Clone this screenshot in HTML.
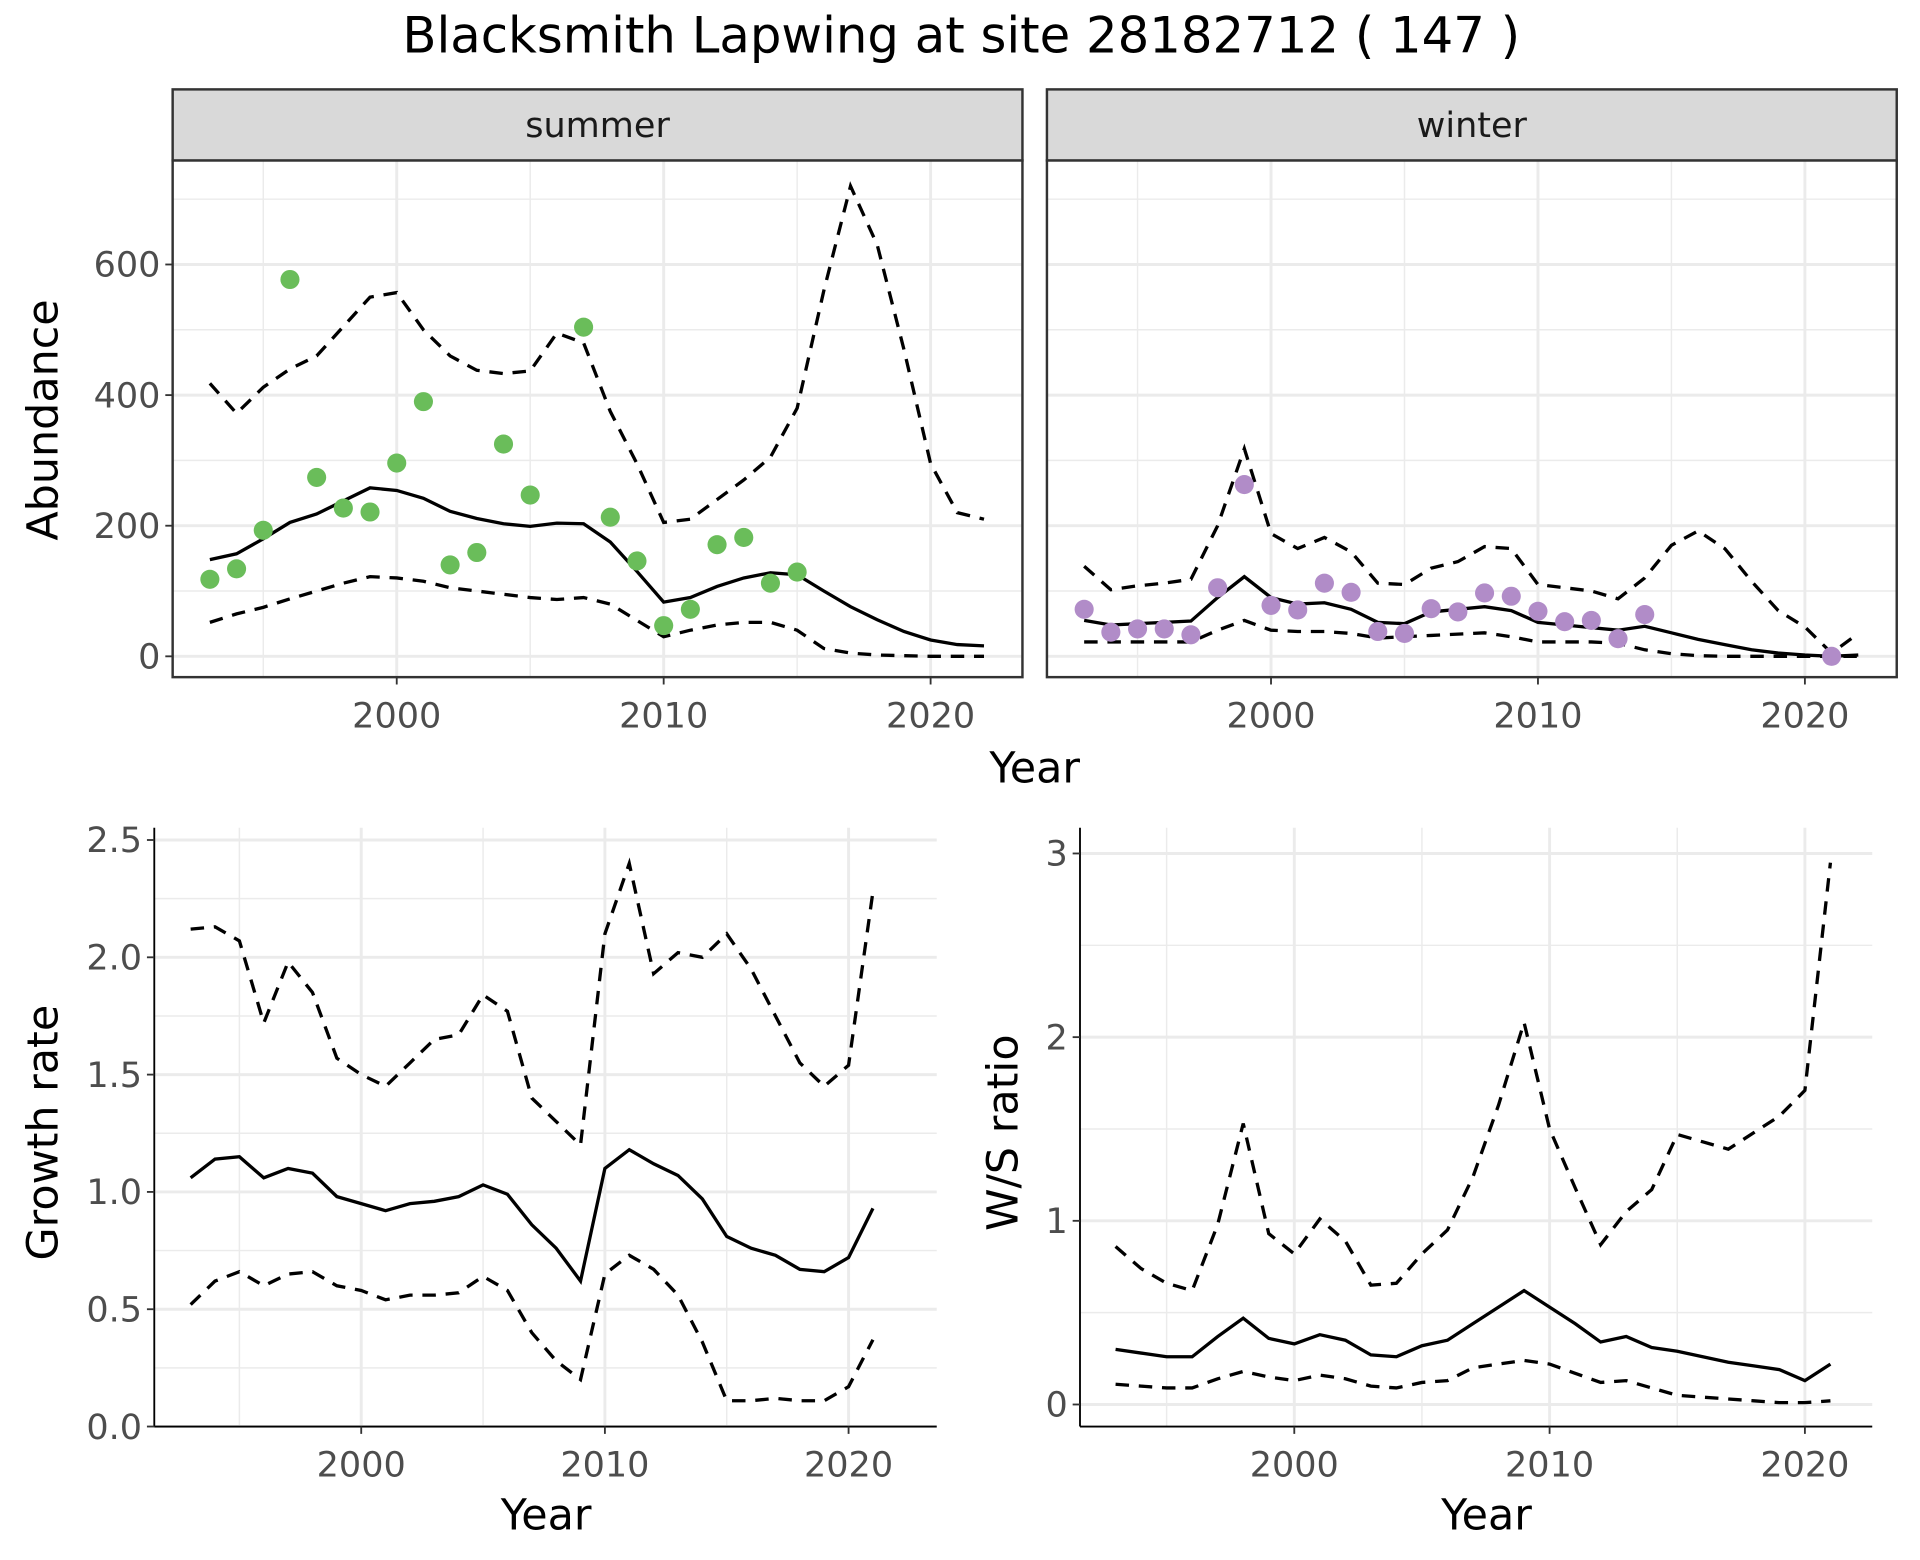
<!DOCTYPE html>
<html><head><meta charset="utf-8"><style>
html,body{margin:0;padding:0;background:#fff;}
svg{display:block;font-family:"DejaVu Sans","Liberation Sans",sans-serif;}
</style></head><body>
<svg id="chart" width="1920" height="1560" viewBox="0 0 1568 1274" preserveAspectRatio="none" xmlns="http://www.w3.org/2000/svg">
<rect width="1568" height="1274" fill="#fff"/>
<text x="785" y="43" text-anchor="middle" font-size="40.6">Blacksmith Lapwing at site 28182712 ( 147 )</text>
</svg>
<script>
const yearsA = [1993,1994,1995,1996,1997,1998,1999,2000,2001,2002,2003,2004,2005,2006,2007,2008,2009,2010,2011,2012,2013,2014,2015,2016,2017,2018,2019,2020,2021,2022];
const summerMean = [148,157,180,205,218,238,258,254,242,222,211,203,199,204,203,175,130,83,90,107,120,128,125,100,76,56,38,25,18,16];
const summerUpper = [418,372,412,440,460,505,550,557,500,460,438,433,437,495,480,375,295,205,210,240,270,305,380,560,720,630,470,295,220,210];
const summerLower = [52,65,75,88,100,112,122,120,115,105,100,95,90,87,90,80,55,30,40,48,52,52,40,12,5,2,1,0,0,0];
const summerPtYears = [1993,1994,1995,1996,1997,1998,1999,2000,2001,2002,2003,2004,2005,2007,2008,2009,2010,2011,2012,2013,2014,2015];
const summerPts = [118,134,193,577,274,227,221,296,390,140,159,325,247,504,213,146,47,72,171,182,112,129];
const winterMean = [55,48,50,52,54,90,122,90,80,82,72,52,50,68,72,76,70,52,48,44,40,46,36,26,18,10,5,2,0,2];
const winterUpper = [138,102,108,112,118,200,318,188,165,182,160,112,110,135,145,168,165,110,105,100,88,120,170,192,165,115,70,45,5,35];
const winterLower = [22,22,22,22,22,40,55,40,38,38,35,28,30,32,34,36,30,22,22,22,20,10,4,1,0,0,0,0,0,0];
const winterPtYears = [1993,1994,1995,1996,1997,1998,1999,2000,2001,2002,2003,2004,2005,2006,2007,2008,2009,2010,2011,2012,2013,2014,2021];
const winterPts = [72,37,42,42,33,105,263,78,71,112,98,38,35,73,68,97,92,69,53,55,27,64,0];
const yearsB = [1993,1994,1995,1996,1997,1998,1999,2000,2001,2002,2003,2004,2005,2006,2007,2008,2009,2010,2011,2012,2013,2014,2015,2016,2017,2018,2019,2020,2021];
const growthMean = [1.06,1.14,1.15,1.06,1.10,1.08,0.98,0.95,0.92,0.95,0.96,0.98,1.03,0.99,0.86,0.76,0.62,1.10,1.18,1.12,1.07,0.97,0.81,0.76,0.73,0.67,0.66,0.72,0.93];
const growthUpper = [2.12,2.13,2.07,1.72,1.98,1.85,1.57,1.50,1.45,1.55,1.65,1.67,1.84,1.77,1.40,1.30,1.20,2.10,2.40,1.93,2.02,2.00,2.10,1.95,1.75,1.55,1.45,1.54,2.28];
const growthLower = [0.52,0.62,0.66,0.60,0.65,0.66,0.60,0.58,0.54,0.56,0.56,0.57,0.64,0.58,0.40,0.28,0.20,0.65,0.73,0.67,0.56,0.36,0.11,0.11,0.12,0.11,0.11,0.17,0.37];
const ratioMean = [0.30,0.28,0.26,0.26,0.37,0.47,0.36,0.33,0.38,0.35,0.27,0.26,0.32,0.35,0.44,0.53,0.62,0.53,0.44,0.34,0.37,0.31,0.29,0.26,0.23,0.21,0.19,0.13,0.22];
const ratioUpper = [0.86,0.74,0.66,0.62,0.98,1.53,0.93,0.82,1.01,0.89,0.65,0.66,0.82,0.95,1.24,1.63,2.08,1.50,1.18,0.87,1.05,1.17,1.47,1.43,1.39,1.48,1.57,1.71,2.95];
const ratioLower = [0.11,0.10,0.09,0.09,0.14,0.18,0.15,0.13,0.16,0.14,0.10,0.09,0.12,0.13,0.20,0.22,0.24,0.22,0.17,0.12,0.13,0.09,0.05,0.04,0.03,0.02,0.01,0.01,0.02];
const xTicks = [2000,2010,2020];
const xMinor = [1995,2005,2015];
const abTicks = [0,200,400,600];
const abMinor = [100,300,500,700];
const grTicks = [0,0.5,1,1.5,2,2.5];
const grLabels = ["0.0","0.5","1.0","1.5","2.0","2.5"];
const grMinor = [0.25,0.75,1.25,1.75,2.25];
const wsTicks = [0,1,2,3];
const wsMinor = [0.5,1.5,2.5];

const NS="http://www.w3.org/2000/svg";
const svg=document.getElementById('chart');
function el(tag,attrs,parent){const e=document.createElementNS(NS,tag);for(const k in attrs)e.setAttribute(k,attrs[k]);(parent||svg).appendChild(e);return e;}
function lin(d0,d1,r0,r1){return v=>r0+(v-d0)*(r1-r0)/(d1-d0);}
const TICK=28.6;

function panel(o){
  const g=el('g',{});
  
  
  const xs=lin(o.xd[0],o.xd[1],o.xr[0],o.xr[1]);
  const ys=lin(o.yd[0],o.yd[1],o.yr[0],o.yr[1]);
  const L=o.box[0],T=o.box[1],R=o.box[2],B=o.box[3];
  o.yMinor.forEach(v=>{const l=el('line',{x1:L,x2:R,y1:ys(v),y2:ys(v),stroke:'#ebebeb','stroke-width':1.2},g);});
  xMinor.forEach(v=>{const l=el('line',{x1:xs(v),x2:xs(v),y1:T,y2:B,stroke:'#ebebeb','stroke-width':1.2},g);});
  o.yTicks.forEach((v,i)=>{const l=el('line',{x1:L,x2:R,y1:ys(v),y2:ys(v),stroke:'#ebebeb','stroke-width':2.4},g);});
  xTicks.forEach(v=>{const l=el('line',{x1:xs(v),x2:xs(v),y1:T,y2:B,stroke:'#ebebeb','stroke-width':2.4},g);});
  const line=(ys_,vals,dash,nm)=>{const p=el('polyline',{points:ys_.map((y,i)=>xs(y)+','+ys(vals[i])).join(' '),fill:'none',stroke:'#000','stroke-width':2.7,'stroke-dasharray':dash?'11,8':'none'},g);};
  line(o.years,o.upper,true,'upper-bound-line');
  line(o.years,o.lower,true,'lower-bound-line');
  line(o.years,o.mean,false,'mean-line');
  if(o.pts){o.ptYears.forEach((y,i)=>{const c=el('circle',{cx:xs(y),cy:ys(o.pts[i]),r:7.8,fill:o.color},g);});}
  if(o.border){const r=el('rect',{x:L,y:T,width:R-L,height:B-T,fill:'none',stroke:'#333','stroke-width':2},g);}
  else{el('line',{x1:L,x2:L,y1:T,y2:B,stroke:'#000','stroke-width':1.5},g);el('line',{x1:L,x2:R,y1:B,y2:B,stroke:'#000','stroke-width':1.5},g);}
  if(o.yLabels){o.yTicks.forEach((v,i)=>{el('line',{x1:L-6,x2:L,y1:ys(v),y2:ys(v),stroke:'#333','stroke-width':1.5},g);const t=el('text',{x:L-10,y:ys(v)+10,'text-anchor':'end','font-size':TICK,fill:'#4d4d4d'},g);t.textContent=o.yLabels[i];});}
  xTicks.forEach(v=>{el('line',{x1:xs(v),x2:xs(v),y1:B,y2:B+6,stroke:'#333','stroke-width':1.5},g);const t=el('text',{x:xs(v),y:B+41,'text-anchor':'middle','font-size':TICK,fill:'#4d4d4d'},g);t.textContent=v;});
  if(o.strip){const s=el('rect',{x:L,y:73,width:R-L,height:T-73,fill:'#d9d9d9',stroke:'#333','stroke-width':2},g);const t=el('text',{x:(L+R)/2,y:112,'text-anchor':'middle','font-size':TICK,fill:'#1a1a1a'},g);t.textContent=o.strip;}
}
panel({name:'summer-panel',xd:[2000,2020],xr:[324,760],yd:[0,600],yr:[536,216],box:[141,131,835,553],yTicks:abTicks,yMinor:abMinor,yLabels:abTicks.map(String),years:yearsA,mean:summerMean,upper:summerUpper,lower:summerLower,pts:summerPts,ptYears:summerPtYears,color:'#6abd5a',border:true,strip:'summer'});
panel({name:'winter-panel',xd:[2000,2020],xr:[1038,1474],yd:[0,600],yr:[536,216],box:[855,131,1549,553],yTicks:abTicks,yMinor:abMinor,yLabels:null,years:yearsA,mean:winterMean,upper:winterUpper,lower:winterLower,pts:winterPts,ptYears:winterPtYears,color:'#b18cc8',border:true,strip:'winter'});
panel({name:'growth-rate-panel',xd:[2000,2020],xr:[295,693],yd:[0,2.5],yr:[1165,686],box:[126,676,765,1165],yTicks:grTicks,yMinor:grMinor,yLabels:grLabels,years:yearsB,mean:growthMean,upper:growthUpper,lower:growthLower,border:false});
panel({name:'ws-ratio-panel',xd:[2000,2020],xr:[1057,1474],yd:[0,3],yr:[1147,697],box:[882,676,1529,1165],yTicks:wsTicks,yMinor:wsMinor,yLabels:wsTicks.map(String),years:yearsB,mean:ratioMean,upper:ratioUpper,lower:ratioLower,border:false});
function txt(x,y,s,rot,nm){const t=el('text',{x:x,y:y,'text-anchor':'middle','font-size':35,fill:'#000'});if(rot)t.setAttribute('transform','rotate(-90 '+x+' '+y+')');t.textContent=s;}
txt(845,639,'Year',false,'x-axis-title-top');
txt(47,343,'Abundance',true,'y-axis-title-abundance');
txt(446,1249,'Year',false,'x-axis-title-growth');
txt(47,925,'Growth rate',true,'y-axis-title-growth');
txt(1214,1249,'Year',false,'x-axis-title-ratio');
txt(831,925,'W/S ratio',true,'y-axis-title-ratio');
</script>
</body></html>
